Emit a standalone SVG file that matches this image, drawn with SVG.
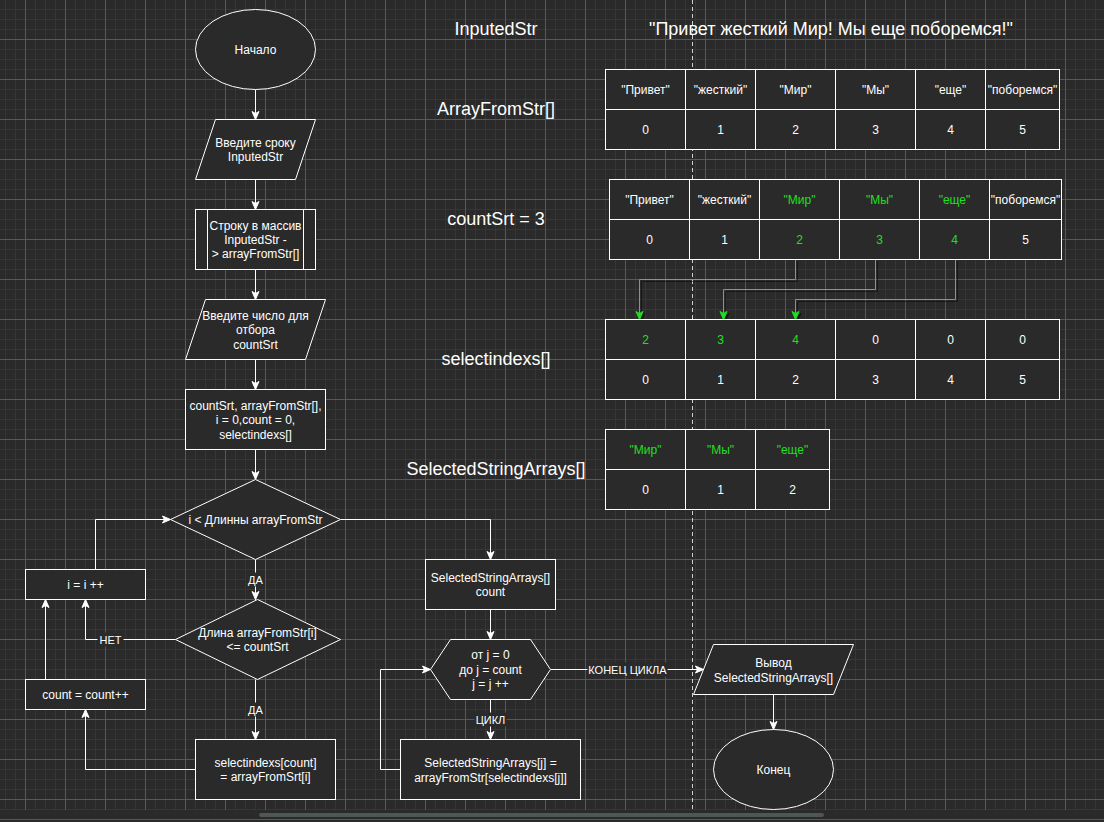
<svg xmlns="http://www.w3.org/2000/svg" width="1104" height="822" viewBox="0 0 1104 822">
<defs>
<pattern id="grid" patternUnits="userSpaceOnUse" x="5" y="9" width="40" height="40">
<rect x="0" y="0" width="40" height="40" fill="#2a2a2a"/>
<path d="M0.5,0V40M10.5,0V40M30.5,0V40M0,0.5H40M0,10.5H40M0,20.5H40" stroke="#363636" stroke-width="1" fill="none"/>
<path d="M20.5,0V40M0,30.5H40" stroke="#585858" stroke-width="1" fill="none"/>
</pattern>
<marker id="arr" markerUnits="userSpaceOnUse" markerWidth="10" markerHeight="10" viewBox="0 0 10 10" refX="9" refY="5" orient="auto">
<path d="M1,1.5 L9,5 L1,8.5 L3,5 Z" fill="#ffffff" stroke="#ffffff" stroke-width="1"/>
</marker>
<marker id="arrg" markerUnits="userSpaceOnUse" markerWidth="10" markerHeight="10" viewBox="0 0 10 10" refX="9" refY="5" orient="auto">
<path d="M1,1.5 L9,5 L1,8.5 L3,5 Z" fill="#1ee01e" stroke="#1ee01e" stroke-width="1"/>
</marker>
<filter id="sh" x="-10%" y="-10%" width="130%" height="130%">
<feDropShadow dx="2" dy="2" stdDeviation="0.6" flood-color="#000000" flood-opacity="0.45"/>
</filter>
<style>
.n{fill:#2a2a2a;stroke:#ffffff;stroke-width:1}
.t{font-family:"Liberation Sans",Arial,sans-serif;font-size:12px;fill:#ffffff;text-anchor:middle}
.big{font-size:18px}
.lt{font-size:11px}
.gr{fill:#1ee01e}
.e{fill:none;stroke:#ffffff;stroke-width:1;marker-end:url(#arr)}
.eg{fill:none;stroke:#1ee01e;stroke-width:1;marker-end:url(#arrg)}
.lb{fill:#2a2a2a}
</style>
</defs>

<rect x="0" y="0" width="1104" height="822" fill="#2a2a2a"/>
<rect x="0" y="0" width="1104" height="810" fill="url(#grid)"/>
<rect x="259" y="813" width="565" height="4" rx="2" fill="#4f5656"/>
<line x1="0" y1="819.5" x2="1104" y2="819.5" stroke="#575757"/>
<line id="divider" x1="692.5" y1="0" x2="692.5" y2="810" stroke="#cfcfcf" stroke-dasharray="4 3"/>

<g id="labels" class="t big">
<text x="496" y="35.3">InputedStr</text>
<text x="831" y="35.3">"Привет жесткий Мир! Мы еще поборемся!"</text>
<text x="496" y="115.3">ArrayFromStr[]</text>
<text x="496" y="225.3">countSrt = 3</text>
<text x="496" y="365.3">selectindexs[]</text>
<text x="496" y="475.3">SelectedStringArrays[]</text>
</g>

<g transform="translate(0.5 0.5)">

<g id="connectors">
<path class="e" d="M255,89V119"/>
<path class="e" d="M255,179V209"/>
<path class="e" d="M255,269V299"/>
<path class="e" d="M255,359V389"/>
<path class="e" d="M255,449V479"/>
<path class="e" d="M255,559V599"/>
<path class="e" d="M255,679V739"/>
<path class="e" d="M195,769H85V709"/>
<path class="e" d="M45,679V599"/>
<path class="e" d="M175,639H85V599"/>
<path class="e" d="M95,569V519H170"/>
<path class="e" d="M340,519H490V559"/>
<path class="e" d="M490,609V639"/>
<path class="e" d="M490,699V739"/>
<path class="e" d="M400,769H380V669H430"/>
<path class="e" d="M550,669H703"/>
<path class="e" d="M773,694V729"/>
<g id="edge-labels">
<rect class="lb" x="246" y="572" width="18" height="14"/>
<text class="t lt" x="255" y="583">ДА</text>
<rect class="lb" x="246" y="702" width="18" height="14"/>
<text class="t lt" x="255" y="713">ДА</text>
<rect class="lb" x="97" y="632" width="26" height="14"/>
<text class="t lt" x="110" y="643">НЕТ</text>
<rect class="lb" x="474" y="712" width="32" height="14"/>
<text class="t lt" x="490" y="723">ЦИКЛ</text>
<rect class="lb" x="587" y="662" width="80" height="14"/>
<text class="t lt" x="627" y="673">КОНЕЦ ЦИКЛА</text>
</g>
<g id="green-connectors" filter="url(#sh)">
<path class="eg" d="M795,259V279H639V319"/>
<path class="eg" d="M875,259V289H723V319"/>
<path class="eg" d="M955,259V299H795V319"/>
</g>
</g>

<g id="start">
<ellipse class="n" cx="255" cy="49" rx="60" ry="40"/>
<text class="t" x="255" y="53.2">Начало</text>
</g>
<g id="input-str">
<polygon class="n" points="215,119 315,119 295,179 195,179"/>
<text class="t" x="255" y="146.2">Введите сроку</text>
<text class="t" x="255" y="160.7">InputedStr</text>
</g>
<g id="split">
<rect class="n" x="195" y="209" width="120" height="60"/>
<path d="M207,209V269M303,209V269" stroke="#ffffff" fill="none"/>
<text class="t" x="255" y="229.2">Строку в массив</text>
<text class="t" x="255" y="243.2">InputedStr -</text>
<text class="t" x="255" y="257.7">&gt; arrayFromStr[]</text>
</g>
<g id="input-count">
<polygon class="n" points="205,299 325,299 305,359 185,359"/>
<text class="t" x="255" y="319.2">Введите число для</text>
<text class="t" x="255" y="333.7">отбора</text>
<text class="t" x="255" y="348.2">countSrt</text>
</g>
<g id="init">
<rect class="n" x="185" y="389" width="140" height="60"/>
<text class="t" x="255" y="409.2">countSrt, arrayFromStr[],</text>
<text class="t" x="255" y="423.7">i = 0,count = 0,</text>
<text class="t" x="255" y="438.2">selectindexs[]</text>
</g>
<g id="cond-i">
<polygon class="n" points="255,479 340,519 255,559 170,519"/>
<text class="t" x="255" y="523.2">i &lt; Длинны arrayFromStr</text>
</g>
<g id="cond-len">
<polygon class="n" points="257,599 340,639 257,679 175,639"/>
<text class="t" x="257" y="636.2">Длина arrayFromStr[i]</text>
<text class="t" x="257" y="650.5">&lt;= countSrt</text>
</g>
<g id="inc-i">
<rect class="n" x="25" y="569" width="120" height="30"/>
<text class="t" x="85" y="588.2">i = i ++</text>
</g>
<g id="inc-count">
<rect class="n" x="25" y="679" width="120" height="30"/>
<text class="t" x="85" y="698.2">count = count++</text>
</g>
<g id="select">
<rect class="n" x="195" y="739" width="140" height="60"/>
<text class="t" x="265" y="766">selectindexs[count]</text>
<text class="t" x="265" y="780.5">= arrayFromSrt[i]</text>
</g>
<g id="ssa-decl">
<rect class="n" x="425" y="559" width="130" height="50"/>
<text class="t" x="490" y="581.2">SelectedStringArrays[]</text>
<text class="t" x="490" y="595.7">count</text>
</g>
<g id="loop-j">
<polygon class="n" points="450,639 530,639 550,669 530,699 450,699 430,669"/>
<text class="t" x="490" y="658.9">от j = 0</text>
<text class="t" x="490" y="673.2">до j = count</text>
<text class="t" x="490" y="687.7">j = j ++</text>
</g>
<g id="assign">
<rect class="n" x="400" y="739" width="180" height="60"/>
<text class="t" x="490" y="766">SelectedStringArrays[j] =</text>
<text class="t" x="490" y="781">arrayFromStr[selectindexs[j]]</text>
</g>
<g id="output">
<polygon class="n" points="713,644 853,644 833,694 693,694"/>
<text class="t" x="773" y="666">Вывод</text>
<text class="t" x="773" y="681">SelectedStringArrays[]</text>
</g>
<g id="end">
<ellipse class="n" cx="773" cy="769" rx="60" ry="40"/>
<text class="t" x="773" y="773.2">Конец</text>
</g>

<g id="table-arrayfromstr">
<rect class="n" x="605" y="69" width="80" height="40"/><rect class="n" x="685" y="69" width="70" height="40"/><rect class="n" x="755" y="69" width="80" height="40"/><rect class="n" x="835" y="69" width="80" height="40"/><rect class="n" x="915" y="69" width="70" height="40"/><rect class="n" x="985" y="69" width="74" height="40"/>
<rect class="n" x="605" y="109" width="80" height="40"/><rect class="n" x="685" y="109" width="70" height="40"/><rect class="n" x="755" y="109" width="80" height="40"/><rect class="n" x="835" y="109" width="80" height="40"/><rect class="n" x="915" y="109" width="70" height="40"/><rect class="n" x="985" y="109" width="74" height="40"/>
<text class="t" x="645" y="93.2">"Привет"</text><text class="t" x="720" y="93.2">"жесткий"</text><text class="t" x="795" y="93.2">"Мир"</text><text class="t" x="875" y="93.2">"Мы"</text><text class="t" x="950" y="93.2">"еще"</text><text class="t" x="1022" y="93.2">"поборемся"</text>
<text class="t" x="645" y="133.2">0</text><text class="t" x="720" y="133.2">1</text><text class="t" x="795" y="133.2">2</text><text class="t" x="875" y="133.2">3</text><text class="t" x="950" y="133.2">4</text><text class="t" x="1022" y="133.2">5</text>
</g>

<g id="table-countsrt">
<rect class="n" x="609" y="179" width="80" height="40"/><rect class="n" x="689" y="179" width="70" height="40"/><rect class="n" x="759" y="179" width="80" height="40"/><rect class="n" x="839" y="179" width="80" height="40"/><rect class="n" x="919" y="179" width="70" height="40"/><rect class="n" x="989" y="179" width="72" height="40"/>
<rect class="n" x="609" y="219" width="80" height="40"/><rect class="n" x="689" y="219" width="70" height="40"/><rect class="n" x="759" y="219" width="80" height="40"/><rect class="n" x="839" y="219" width="80" height="40"/><rect class="n" x="919" y="219" width="70" height="40"/><rect class="n" x="989" y="219" width="72" height="40"/>
<text class="t" x="649" y="203.2">"Привет"</text><text class="t" x="724" y="203.2">"жесткий"</text><text class="t gr" x="799" y="203.2">"Мир"</text><text class="t gr" x="879" y="203.2">"Мы"</text><text class="t gr" x="954" y="203.2">"еще"</text><text class="t" x="1025" y="203.2">"поборемся"</text>
<text class="t" x="649" y="243.2">0</text><text class="t" x="724" y="243.2">1</text><text class="t gr" x="799" y="243.2">2</text><text class="t gr" x="879" y="243.2">3</text><text class="t gr" x="954" y="243.2">4</text><text class="t" x="1025" y="243.2">5</text>
</g>

<g id="table-selectindexs">
<rect class="n" x="605" y="319" width="80" height="40"/><rect class="n" x="685" y="319" width="70" height="40"/><rect class="n" x="755" y="319" width="80" height="40"/><rect class="n" x="835" y="319" width="80" height="40"/><rect class="n" x="915" y="319" width="70" height="40"/><rect class="n" x="985" y="319" width="74" height="40"/>
<rect class="n" x="605" y="359" width="80" height="40"/><rect class="n" x="685" y="359" width="70" height="40"/><rect class="n" x="755" y="359" width="80" height="40"/><rect class="n" x="835" y="359" width="80" height="40"/><rect class="n" x="915" y="359" width="70" height="40"/><rect class="n" x="985" y="359" width="74" height="40"/>
<text class="t gr" x="645" y="343.2">2</text><text class="t gr" x="720" y="343.2">3</text><text class="t gr" x="795" y="343.2">4</text><text class="t" x="875" y="343.2">0</text><text class="t" x="950" y="343.2">0</text><text class="t" x="1022" y="343.2">0</text>
<text class="t" x="645" y="383.2">0</text><text class="t" x="720" y="383.2">1</text><text class="t" x="795" y="383.2">2</text><text class="t" x="875" y="383.2">3</text><text class="t" x="950" y="383.2">4</text><text class="t" x="1022" y="383.2">5</text>
</g>

<g id="table-selected">
<rect class="n" x="605" y="429" width="80" height="40"/><rect class="n" x="685" y="429" width="70" height="40"/><rect class="n" x="755" y="429" width="74" height="40"/>
<rect class="n" x="605" y="469" width="80" height="40"/><rect class="n" x="685" y="469" width="70" height="40"/><rect class="n" x="755" y="469" width="74" height="40"/>
<text class="t gr" x="645" y="453.2">"Мир"</text><text class="t gr" x="720" y="453.2">"Мы"</text><text class="t gr" x="792" y="453.2">"еще"</text>
<text class="t" x="645" y="493.2">0</text><text class="t" x="720" y="493.2">1</text><text class="t" x="792" y="493.2">2</text>
</g>

</g>
</svg>
